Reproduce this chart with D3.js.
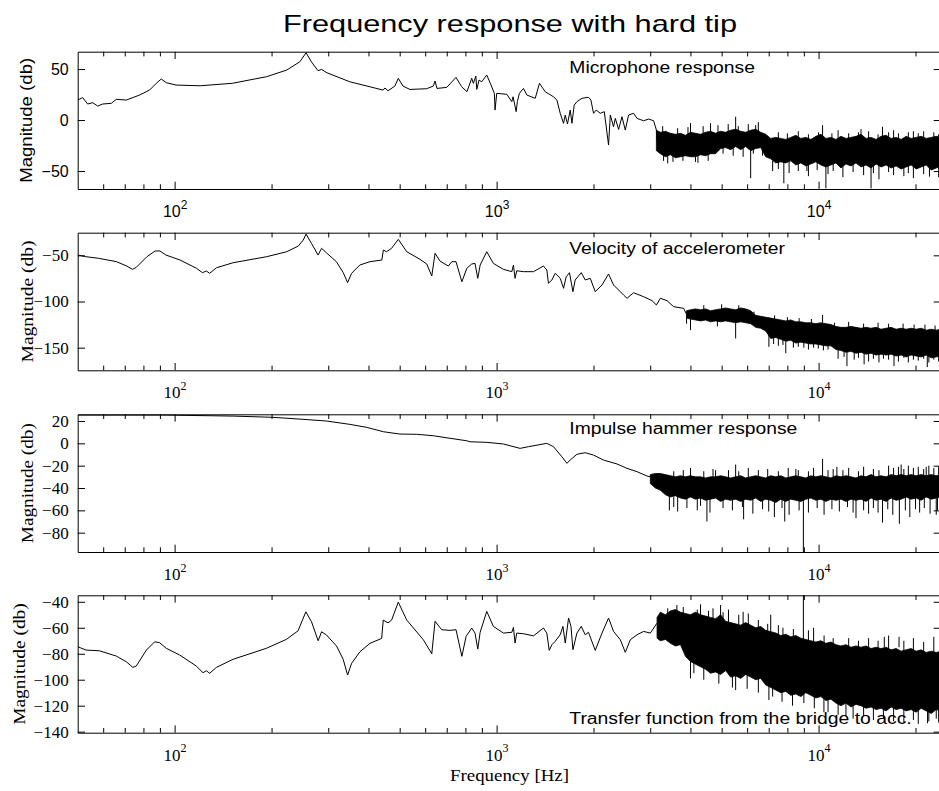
<!DOCTYPE html>
<html>
<head>
<meta charset="utf-8">
<script src="https://cdn.jsdelivr.net/npm/d3@7"></script>
<style>
  body { margin: 0; background: #fff; }
</style>
</head>
<body>
<svg id="chart" width="939" height="791"></svg>
<script>
// frequency axis (log) ticks
var majorFreqs = [100, 1000, 10000];
var majorExps = ["2", "3", "4"];
var minorFreqs = [60, 70, 80, 90, 200, 300, 400, 500, 600, 700, 800, 900,
                  2000, 3000, 4000, 5000, 6000, 7000, 8000, 9000, 20000];

// magnitude ticks for each panel
var micTicks = [-50, 0, 50];
var accTicks = [-150, -100, -50];
var hamTicks = [-80, -60, -40, -20, 0, 20];
var tfTicks = [-140, -120, -100, -80, -60, -40];

// ---- microphone response: [freq, dB] ----
var micTrace = [[50,19.6],[51.8,22],[53.7,15.7],[55.7,17],[57.7,13.7],[59.8,15.7],[63.6,16.4],[65.9,20.3],[70.8,19.6],[77.8,24.5],[83.6,29.4],[87.7,36],[90.9,40.2],[94.2,36.6],[101,34.3],[120,33.6],[151,36],[193,42.5],[223,49],[245,57.2],[256,66],[266,57],[279,48.3],[286,49.7],[297,46.4],[350,37.5],[444,29.4],[450,31.4],[460,28.7],[483,33.3],[495,40.9],[512,33.3],[538,30],[606,30.7],[636,33.3],[644,38.2],[653,31],[700,32],[748,41.8],[779,32.6],[809,27.8],[837,40.9],[847,36],[862,43.1],[868,30.1],[882,39.2],[899,37.5],[932,44.1],[961,34.3],[984,26.2],[989,9.8],[1001,26.2],[1076,25.2],[1115,18],[1125,22.8],[1150,8.2],[1160,18],[1177,26.2],[1212,31],[1242,24.5],[1318,21.3],[1359,36],[1416,27.7],[1502,22.8],[1539,19.6],[1576,6.6],[1614,-3.2],[1634,4.9],[1660,-3.9],[1693,9.8],[1714,-3.2],[1742,14.7],[1776,18],[1841,21.3],[1929,22.3],[1963,19.6],[2000,6.6],[2039,9.8],[2099,6.6],[2160,8.2],[2227,-24.5],[2255,4.9],[2308,-6.6],[2337,1.6],[2393,-9.2],[2451,3.3],[2510,-9.8],[2570,4.9],[2664,6.6],[2730,1.6],[2862,-0.7],[2967,1],[3074,-0.7],[3135,-9.8],[3150,-20]];
// dense noise envelope: [freq, upper dB, lower dB]
var micBand = [[3135,-10,-30],[3226,-12,-33],[3344,-11,-36],[3466,-13,-34],[3593,-14,-37],[3724,-13,-36],[3860,-15,-35],[4001,-12,-36],[4147,-13,-36],[4299,-14,-34],[4456,-12,-35],[4618,-11,-33],[4787,-13,-33],[4962,-11,-28],[5143,-12,-27],[5331,-10,-29],[5526,-9,-26],[5727,-11,-29],[5936,-12,-26],[6153,-10,-30],[6378,-9,-28],[6611,-12,-27],[6852,-14,-36],[7102,-18,-38],[7362,-17,-42],[7630,-18,-41],[7909,-19,-42],[8198,-17,-40],[8497,-15,-44],[8807,-18,-42],[9129,-17,-45],[9462,-19,-43],[9808,-16,-41],[10166,-14,-44],[10537,-18,-46],[10922,-17,-44],[11321,-19,-42],[11734,-16,-47],[12163,-18,-43],[12607,-17,-45],[13067,-16,-42],[13545,-14,-46],[14039,-18,-44],[14552,-17,-47],[15083,-19,-43],[15634,-16,-46],[16205,-15,-44],[16797,-18,-47],[17410,-17,-45],[18046,-19,-48],[18705,-16,-46],[19388,-18,-44],[20096,-17,-48],[20830,-16,-46],[21590,-18,-44],[22379,-17,-49],[23196,-16,-47],[24000,-17,-45]];
// single spikes: [freq, from dB, to dB]
var micSpikes = [[3400,-30,-42.5],[4001,-13,-3],[4147,-35,-41],[4618,-13,-3],[5526,-12,3.3],[6153,-28,-57],[6378,-12,-5],[7800,-40,-62],[9200,-40,-50],[10290,-18,-5],[10537,-44,-67],[13545,-18,-9],[14552,-44,-67],[15800,-18,-6.6],[22100,-45,-55.5],
    [3280,-14,-6],[3650,-15,-8],[3930,-15,-7],[4380,-14,-6],[4870,-13,-5],[5240,-12,-4],[5630,-12,-6],[6050,-12,-4],[6500,-12,-2],
    [3300,-30,-40],[3530,-32,-41],[3790,-32,-40],[4220,-32,-42],[4540,-32,-40],[5050,-25,-33],[5430,-25,-35],[5830,-25,-36],[6270,-25,-33],[6700,-25,-35],
    [7500,-20,-12],[8000,-20,-13],[8650,-20,-11],[9300,-20,-14],[10000,-20,-12],[11000,-20,-13],[11500,-20,-10],[12400,-20,-13],[13300,-20,-12],[14300,-20,-11],[15300,-20,-14],[16500,-20,-12],[17100,-20,-10],[17700,-20,-13],[19000,-20,-12],[19700,-20,-11],[20400,-20,-13],[21200,-20,-11],[22800,-20,-12],[23600,-20,-14],
    [7200,-40,-50],[7500,-40,-48],[8100,-40,-52],[8650,-40,-50],[9300,-40,-55],[9900,-40,-49],[10700,-40,-53],[11100,-40,-50],[11900,-40,-56],[12800,-40,-51],[13800,-40,-54],[14800,-40,-52],[15400,-40,-58],[16500,-40,-51],[17100,-40,-54],[18400,-40,-55],[19000,-40,-52],[19700,-40,-57],[21200,-40,-53],[23600,-40,-56]];

// ---- velocity of accelerometer ----
var accTrace = [[50,-49.7],[53,-51.5],[58,-53.2],[66,-56.9],[71,-61.6],[74,-65.2],[76,-63],[82,-51.5],[87,-45.3],[90,-45.3],[94,-49.7],[104,-55.1],[117,-64.1],[122,-68.8],[125.5,-67],[128.5,-69.5],[135,-63.4],[152,-58],[193,-51.5],[223,-46.1],[242,-40],[251,-33.4],[256,-27],[266,-37],[279,-49.7],[286,-42.4],[296,-47.2],[318,-56.9],[334,-68.8],[344.5,-79.6],[354.5,-69.5],[376,-60.5],[404,-56.9],[440,-55.1],[445,-44.3],[455,-46.1],[472,-42.4],[495,-32.7],[526,-46.1],[578,-54.3],[607,-59.4],[629,-72.4],[644,-47.8],[667,-56.2],[708,-61.6],[726,-56.9],[748,-56.9],[780,-78.6],[808,-64.1],[837,-59.4],[857,-58.7],[874,-74.9],[889,-60.5],[932,-46.1],[977,-58.7],[1050,-65.2],[1115,-67.7],[1128,-60.5],[1141,-74.9],[1155,-66.7],[1211,-67.7],[1302,-67.7],[1398,-61.6],[1432,-65.9],[1449,-80.3],[1485,-76.7],[1520,-69.5],[1576,-74.9],[1614,-85.7],[1645,-73.2],[1684,-68.8],[1726,-89.4],[1754,-76.7],[1832,-68.8],[1885,-76.7],[1954,-74.9],[2025,-89.4],[2125,-82.1],[2227,-70.2],[2308,-82.1],[2480,-93],[2541,-96.5],[2664,-90.5],[2861,-94.8],[3039,-99.1],[3135,-103.8],[3226,-96.5],[3383,-99.1],[3547,-105.6],[3811,-107.4],[3890,-114]];
var accBand = [[3890,-110,-118],[4001,-109,-119],[4147,-108,-120],[4299,-109,-121],[4456,-108,-120],[4618,-110,-122],[4787,-109,-121],[4962,-108,-122],[5143,-107,-121],[5331,-108,-122],[5526,-109,-123],[5727,-107,-122],[5936,-108,-123],[6153,-110,-124],[6378,-115,-128],[6611,-116,-129],[6852,-117,-132],[7102,-118,-140],[7362,-119,-139],[7630,-120,-141],[7909,-121,-143],[8198,-120,-142],[8497,-122,-145],[8807,-122,-144],[9129,-123,-145],[9462,-123,-146],[9808,-124,-146],[10166,-123,-147],[10537,-124,-148],[10922,-125,-148],[11321,-127,-152],[11734,-128,-153],[12163,-128,-155],[12607,-127,-154],[13067,-128,-156],[13545,-129,-155],[14039,-128,-157],[14552,-129,-156],[15083,-128,-158],[15634,-130,-157],[16205,-129,-158],[16797,-128,-157],[17410,-130,-159],[18046,-129,-158],[18705,-130,-160],[19388,-129,-158],[20096,-130,-159],[20830,-129,-160],[21590,-131,-158],[22379,-130,-161],[23196,-131,-160],[24000,-130,-159]];
var accSpikes = [[3890,-115,-124],[4001,-115,-131],[4850,-120,-127],[5526,-120,-140],[7010,-130,-149],[7909,-135,-156],[9000,-135,-150],[10290,-123,-114.6],[12250,-150,-170],[13850,-150,-168],[17150,-150,-170],[21760,-150,-171],
    [11500,-150,-162],[12000,-150,-160],[12900,-150,-163],[13300,-150,-161],[14300,-150,-165],[14800,-150,-162],[15400,-150,-166],[15900,-150,-162],[16500,-150,-163],[17700,-150,-165],[18400,-150,-161],[19000,-150,-166],[19700,-150,-163],[20400,-150,-164],[21200,-150,-162],[22000,-150,-166],[22800,-150,-163],[23600,-150,-165],
    [7250,-135,-146],[7500,-135,-148],[7750,-135,-147],[8350,-138,-150],[8650,-138,-149],[9300,-138,-152],[9650,-138,-150],[9980,-138,-151],[10350,-140,-153],[10700,-140,-152],
    [4400,-112,-104],[5000,-112,-103],[5650,-112,-104],[6300,-118,-111],[7300,-122,-115],[8000,-124,-117],[8700,-125,-118],[9500,-126,-119],[11200,-130,-123],[12400,-130,-122],[13800,-131,-124],[15300,-131,-123],[16500,-131,-124],[18300,-132,-124],[19800,-132,-125],[21400,-133,-125],[23000,-133,-126]];

// ---- impulse hammer response ----
var hamTrace = [[50,25.3],[94,25.3],[152,24.4],[202,23.3],[245,21.7],[296,20],[350,17],[395,14.3],[445,10.4],[501,8.3],[565,8.1],[636,6.8],[717,4.5],[808,2.3],[827,1.4],[932,0.9],[1050,-0.6],[1183,-4.5],[1256,-3],[1432,0],[1502,-3],[1595,-12],[1654,-17.9],[1693,-14.9],[1776,-9.8],[1885,-8.4],[2000,-10.5],[2149,-15],[2366,-18.5],[2541,-22.4],[2730,-25.4],[2933,-29.3],[3002,-30]];
var hamBand = [[3002,-28,-36],[3112,-27,-40],[3226,-27,-42],[3344,-28,-46],[3466,-29,-48],[3593,-30,-47],[3724,-29,-49],[3860,-30,-50],[4001,-29,-48],[4147,-30,-50],[4299,-30,-49],[4456,-31,-51],[4618,-30,-50],[4787,-30,-49],[4962,-29,-52],[5143,-30,-50],[5331,-31,-51],[5526,-30,-50],[5727,-29,-52],[5936,-31,-50],[6153,-30,-51],[6378,-29,-49],[6611,-30,-52],[6852,-31,-50],[7102,-29,-51],[7362,-30,-53],[7630,-29,-50],[7909,-31,-52],[8198,-30,-50],[8497,-29,-51],[8807,-30,-52],[9129,-31,-50],[9462,-29,-49],[9808,-30,-51],[10166,-29,-50],[10537,-30,-52],[10922,-31,-50],[11321,-29,-51],[11734,-30,-50],[12163,-29,-52],[12607,-30,-50],[13067,-31,-51],[13545,-29,-50],[14039,-30,-52],[14552,-28,-49],[15083,-30,-51],[15634,-29,-50],[16205,-30,-52],[16797,-28,-49],[17410,-29,-51],[18046,-28,-50],[18705,-29,-48],[19388,-28,-50],[20096,-29,-49],[20830,-28,-51],[21590,-29,-48],[22379,-28,-50],[23196,-29,-49],[24000,-28,-48]];
var hamSpikes = [[3440,-45,-60],[3650,-45,-61],[4001,-35,-22],[4200,-45,-60],[4500,-45,-70],[4787,-35,-24],[5526,-32,-19],[5850,-48,-68],[7290,-48,-66],[7850,-48,-70],[8500,-33,-23],[8970,-45,-98],[10290,-33,-14],[11400,-33,-21],[13067,-48,-67],[14300,-48,-63],[15800,-48,-71],[17820,-48,-72],[18050,-33,-19],[21590,-33,-21],[23196,-48,-64],
    [3550,-31,-25],[3800,-31,-24],[4400,-31,-25],[4700,-31,-23],[5250,-31,-24],[5650,-31,-25],[6050,-31,-22],[6500,-31,-24],[6950,-31,-23],[7500,-31,-25],[8050,-31,-22],[8650,-31,-24],[9300,-31,-25],[9650,-31,-22],[10700,-31,-24],[11100,-31,-23],[11900,-31,-24],[12400,-31,-22],[13300,-31,-25],[13800,-31,-21],[14800,-31,-23],[15400,-31,-24],[16500,-31,-20],[17100,-31,-22],[17700,-31,-21],[18400,-31,-23],[19000,-31,-20],[19700,-31,-22],[20400,-31,-21],[21200,-31,-23],[22000,-31,-20],[22800,-31,-22],[23600,-31,-21],
    [3550,-48,-57],[3900,-48,-58],[4300,-48,-56],[4600,-48,-62],[5050,-48,-58],[5400,-48,-60],[5800,-48,-57],[6250,-48,-63],[6700,-48,-59],[7000,-48,-61],[7700,-48,-58],[8100,-48,-64],[8700,-48,-60],[9300,-48,-62],[9900,-48,-58],[10400,-48,-64],[11000,-48,-59],[11600,-48,-61],[12300,-48,-57],[12800,-48,-62],[13800,-48,-60],[14800,-48,-58],[15300,-48,-62],[16400,-48,-59],[17000,-48,-64],[18600,-48,-60],[19200,-48,-66],[20000,-48,-59],[20600,-48,-62],[21300,-48,-58],[22200,-48,-63],[23400,-48,-60]];

// ---- transfer function bridge -> accelerometer ----
var tfTrace = [[50,-74.6],[53.1,-77.2],[58.4,-77.7],[65.9,-81.8],[70.8,-86.2],[74.2,-90.5],[76,-89.5],[81.7,-77.2],[86.7,-70.8],[89.8,-71.5],[94.2,-75.8],[103.7,-81],[116.8,-89.5],[122.5,-94.6],[125.5,-93.1],[128.5,-95.1],[134.8,-90.5],[151.8,-84.3],[192.8,-75.8],[222.6,-68.9],[241.8,-62.3],[255.6,-47.7],[266.2,-55.4],[279.1,-70],[286,-63.1],[296.4,-65.6],[318.4,-74.1],[333.8,-84.3],[344.5,-96.4],[354.5,-87.4],[376.2,-78.5],[404.2,-72],[439.5,-68.2],[444.6,-54.1],[460,-56.2],[472,-54.1],[495,-40.3],[526,-54.1],[592,-69.2],[629,-80],[644,-55],[675,-61.5],[717,-62],[748,-61.5],[780,-82],[804,-66.6],[837,-60.2],[857,-64.1],[874,-76.4],[889,-63.5],[932,-47.4],[977,-58.9],[1050,-64.1],[1115,-63.5],[1128,-59.7],[1141,-71.8],[1155,-64.1],[1211,-64.6],[1302,-66.2],[1398,-60.2],[1432,-64.1],[1457,-77.4],[1485,-73.1],[1520,-70.5],[1576,-65.4],[1607,-58.9],[1634,-71.8],[1673,-52.5],[1702,-58.9],[1726,-76.9],[1776,-64.1],[1832,-58.9],[1885,-65.4],[1929,-63.5],[2025,-77.4],[2125,-64.1],[2227,-52.5],[2308,-62.8],[2422,-69.2],[2510,-78.9],[2602,-69.2],[2730,-65.4],[2861,-62.8],[3002,-64.1],[3150,-56.4]];
var tfBand = [[3150,-52,-68],[3226,-48,-70],[3344,-50,-69],[3466,-47,-72],[3593,-46,-74],[3724,-48,-73],[3860,-49,-82],[4001,-50,-86],[4147,-48,-88],[4299,-50,-90],[4456,-51,-92],[4618,-52,-95],[4787,-53,-94],[4962,-50,-96],[5143,-55,-93],[5331,-56,-98],[5526,-57,-97],[5727,-58,-99],[5936,-56,-96],[6153,-58,-98],[6378,-60,-100],[6611,-59,-99],[6852,-62,-104],[7102,-63,-106],[7362,-64,-108],[7630,-66,-110],[7909,-65,-109],[8198,-67,-112],[8497,-66,-111],[8807,-68,-113],[9129,-69,-110],[9462,-70,-112],[9808,-71,-114],[10166,-70,-113],[10537,-72,-116],[10922,-71,-115],[11321,-73,-118],[11734,-74,-120],[12163,-73,-118],[12607,-75,-121],[13067,-74,-119],[13545,-75,-120],[14039,-74,-122],[14552,-76,-121],[15083,-75,-123],[15634,-76,-122],[16205,-75,-124],[16797,-77,-121],[17410,-76,-123],[18046,-78,-122],[18705,-77,-124],[19388,-76,-123],[20096,-78,-125],[20830,-77,-122],[21590,-79,-124],[22379,-78,-126],[23196,-79,-123],[24000,-78,-124]];
var tfSpikes = [[3630,-50,-42.5],[4001,-85,-99],[4299,-55,-42],[4962,-55,-42.5],[5526,-95,-108],[5830,-60,-47.7],[7010,-100,-115.6],[7102,-65,-50],[8970,-70,-34],[10390,-110,-125],[12163,-115,-128],[16000,-75,-67],[17780,-75,-67],[21800,-120,-133.5],[23196,-120,-130],
    [3400,-55,-45],[3800,-55,-44],[4200,-55,-46],[4550,-58,-47],[4700,-58,-45],[5050,-60,-48],[5250,-60,-46],[5650,-62,-50],[6050,-62,-49],[6500,-65,-54],[6950,-68,-57],[7500,-70,-58],[7750,-70,-60],[8350,-72,-61],[9300,-73,-62],[9650,-74,-60],[10400,-76,-66],[11100,-78,-68],[12400,-78,-68],[13300,-80,-70],[14300,-80,-68],[15300,-80,-70],[16500,-82,-66],[18400,-82,-70],[19700,-82,-68],[21200,-82,-71],[22800,-82,-67],
    [4100,-85,-95],[4400,-88,-100],[4900,-90,-103],[5400,-95,-106],[6000,-95,-107],[6500,-98,-110],[7200,-102,-113],[7700,-105,-117],[8300,-108,-120],[9000,-108,-118],[9700,-110,-122],[10700,-112,-125],[11500,-115,-127],[12800,-117,-130],[13800,-117,-128],[14800,-119,-131],[15900,-119,-130],[17100,-119,-132],[18400,-120,-133],[19700,-120,-131],[20400,-120,-134],[22000,-120,-132],[23600,-120,-133]];

var sansFont = "'Liberation Sans', Arial, Helvetica, sans-serif";
var serifFont = "'Liberation Serif', 'Times New Roman', serif";

// layout of the four stacked panels
var panels = [
    {trace: micTrace, band: micBand, spikes: micSpikes, ticks: micTicks, yDomain: [-67.6, 67],
     top: 51.7, bottom: 189, serif: false, note: "Microphone response", noteY: 72.7, noteLen: 185.7, labelX: 32.3, labelLen: 125},
    {trace: accTrace, band: accBand, spikes: accSpikes, ticks: accTicks, yDomain: [-174.5, -25.5],
     top: 232.7, bottom: 370.3, serif: true, note: "Velocity of accelerometer", noteY: 253.5, noteLen: 215.7, labelX: 33.3, labelLen: 122},
    {trace: hamTrace, band: hamBand, spikes: hamSpikes, ticks: hamTicks, yDomain: [-97.3, 26],
     top: 414.3, bottom: 552, serif: true, note: "Impulse hammer response", noteY: 433.5, noteLen: 228, labelX: 33, labelLen: 120},
    {trace: tfTrace, band: tfBand, spikes: tfSpikes, ticks: tfTicks, yDomain: [-140.8, -35],
     top: 595.3, bottom: 732.7, serif: true, note: "Transfer function from the bridge to acc.", noteY: 724, noteLen: 342.4, labelX: 24.5, labelLen: 121.7}
];

var svg = d3.select("#chart");

// shared log frequency scale
var x = d3.scaleLog()
    .domain([50, 24000])
    .range([77.7, 941]);

// title
svg.append("text")
    .attr("x", 510)
    .attr("y", 32)
    .attr("text-anchor", "middle")
    .attr("font-family", sansFont)
    .attr("font-size", 24)
    .attr("textLength", 454)
    .attr("lengthAdjust", "spacingAndGlyphs")
    .text("Frequency response with hard tip");

panels.forEach(function(p, i) {
    var y = d3.scaleLinear().domain(p.yDomain).range([p.bottom, p.top]);
    var font = p.serif ? serifFont : sansFont;
    var g = svg.append("g");

    // clip data to the plot box
    svg.append("clipPath").attr("id", "clip" + i)
        .append("rect")
        .attr("x", x.range()[0])
        .attr("y", p.top)
        .attr("width", x.range()[1] - x.range()[0])
        .attr("height", p.bottom - p.top);

    var plot = g.append("g").attr("clip-path", "url(#clip" + i + ")");

    // dense noise region
    plot.append("path")
        .datum(p.band)
        .attr("d", d3.area().x(d => x(d[0])).y0(d => y(d[2])).y1(d => y(d[1])))
        .attr("fill", "#000")
        .attr("stroke", "#000")
        .attr("stroke-width", 0.8)
        .attr("stroke-linejoin", "round");

    // main trace
    plot.append("path")
        .datum(p.trace)
        .attr("d", d3.line().x(d => x(d[0])).y(d => y(d[1])))
        .attr("fill", "none")
        .attr("stroke", "#000")
        .attr("stroke-width", 1)
        .attr("stroke-linejoin", "round");

    // spikes out of the noise
    plot.selectAll("line.spike")
        .data(p.spikes)
        .enter().append("line")
        .attr("class", "spike")
        .attr("x1", d => x(d[0]))
        .attr("x2", d => x(d[0]))
        .attr("y1", d => y(d[1]))
        .attr("y2", d => y(d[2]))
        .attr("stroke", "#000")
        .attr("stroke-width", 1);

    // bottom axis with major labels
    var bottomAxis = g.append("g")
        .attr("transform", "translate(0," + p.bottom + ")")
        .call(d3.axisBottom(x).tickValues(majorFreqs).tickSizeInner(-7.3).tickSizeOuter(0).tickFormat(""))
        .attr("font-family", font)
        .attr("font-size", p.serif ? 17 : 16);

    bottomAxis.selectAll(".tick text").each(function(d, k) {
        var t = d3.select(this).attr("y", 28).attr("dy", null);
        t.append("tspan").text("10");
        t.append("tspan").attr("dy", -8.5).attr("font-size", 12).text(majorExps[k]);
    });

    // minor ticks bottom
    g.append("g")
        .attr("transform", "translate(0," + p.bottom + ")")
        .call(d3.axisBottom(x).tickValues(minorFreqs).tickSizeInner(-4.7).tickSizeOuter(0).tickFormat(""))
        .call(a => a.select(".domain").remove());

    // top axis, major and minor ticks
    g.append("g")
        .attr("transform", "translate(0," + p.top + ")")
        .call(d3.axisTop(x).tickValues(majorFreqs).tickSizeInner(-7.3).tickSizeOuter(0).tickFormat(""));
    g.append("g")
        .attr("transform", "translate(0," + p.top + ")")
        .call(d3.axisTop(x).tickValues(minorFreqs).tickSizeInner(-4.7).tickSizeOuter(0).tickFormat(""))
        .call(a => a.select(".domain").remove());

    // left axis with labels
    g.append("g")
        .attr("transform", "translate(" + x.range()[0] + ",0)")
        .call(d3.axisLeft(y).tickValues(p.ticks).tickSizeInner(-7.3).tickSizeOuter(0).tickPadding(9).tickFormat(d3.format("d")))
        .attr("font-family", font)
        .attr("font-size", p.serif ? 17 : 16);

    // right axis ticks only
    g.append("g")
        .attr("transform", "translate(" + x.range()[1] + ",0)")
        .call(d3.axisRight(y).tickValues(p.ticks).tickSizeInner(-7.3).tickSizeOuter(0).tickFormat(""));

    // y label
    g.append("text")
        .attr("transform", "translate(" + p.labelX + "," + (p.top + p.bottom) / 2 + ") rotate(-90)")
        .attr("text-anchor", "middle")
        .attr("font-family", font)
        .attr("font-size", p.serif ? 17 : 16)
        .attr("textLength", p.labelLen)
        .attr("lengthAdjust", "spacingAndGlyphs")
        .text("Magnitude (db)");

    // panel annotation
    g.append("text")
        .attr("x", 569.3)
        .attr("y", p.noteY)
        .attr("font-family", sansFont)
        .attr("font-size", 16)
        .attr("textLength", p.noteLen)
        .attr("lengthAdjust", "spacingAndGlyphs")
        .text(p.note);
});

// x label
svg.append("text")
    .attr("x", 509.5)
    .attr("y", 781)
    .attr("text-anchor", "middle")
    .attr("font-family", serifFont)
    .attr("font-size", 17)
    .attr("textLength", 119)
    .attr("lengthAdjust", "spacingAndGlyphs")
    .text("Frequency [Hz]");
</script>
</body>
</html>
